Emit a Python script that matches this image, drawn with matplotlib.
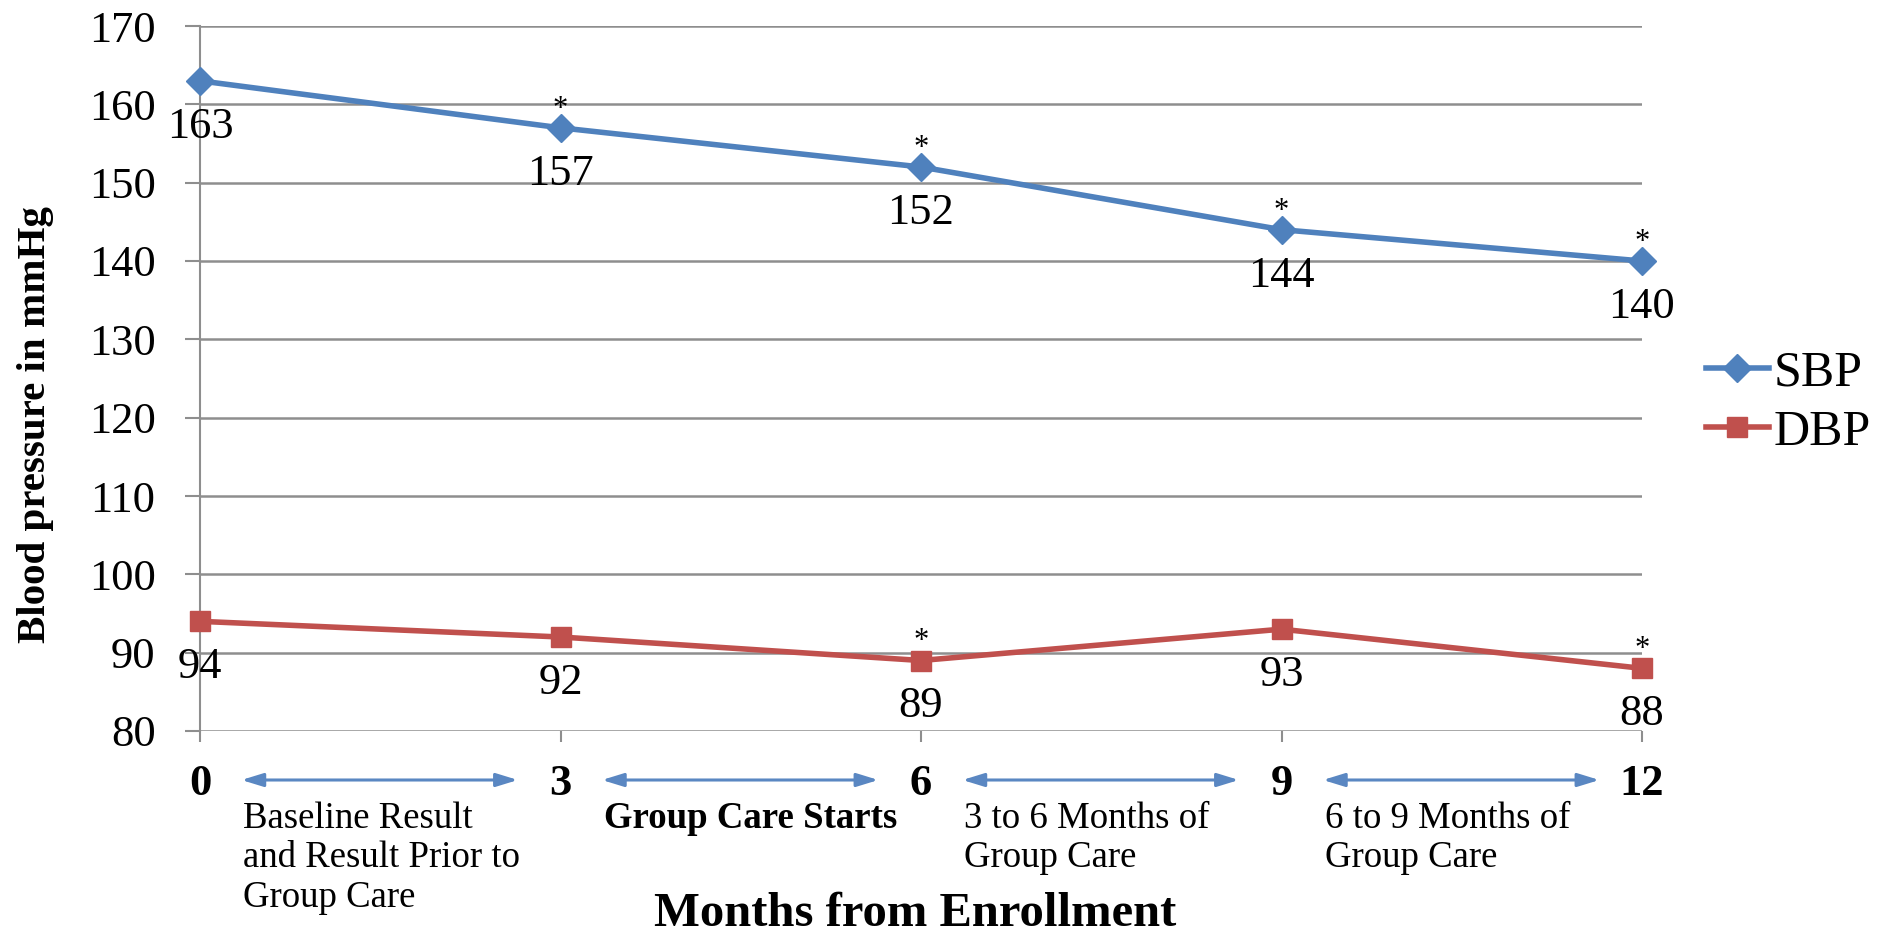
import matplotlib
matplotlib.use("Agg")
import matplotlib.pyplot as plt
import matplotlib.transforms as mtransforms

months = [0, 3, 6, 9, 12]
sbp = [163, 157, 152, 144, 140]
dbp = [94, 92, 89, 93, 88]
sbp_sig = [False, True, True, True, True]
dbp_sig = [False, False, True, False, True]
yticks = [80, 90, 100, 110, 120, 130, 140, 150, 160, 170]
period_labels = ["Baseline Result\nand Result Prior to\nGroup Care",
                 "Group Care Starts",
                 "3 to 6 Months of\nGroup Care",
                 "6 to 9 Months of\nGroup Care"]
period_bold = [False, True, False, False]

plt.rcParams['font.family'] = ['Liberation Serif', 'DejaVu Serif']

W, H = 1878, 933
fig = plt.figure(figsize=(W / 100, H / 100), dpi=100)
L, R, T, B = 200, 1642, 26, 731
ax = fig.add_axes([L / W, 1 - B / H, (R - L) / W, (B - T) / H])

blue = '#4F81BD'
red = '#C0504D'
grid = '#8E8E8E'

ax.set_xlim(0, 12)
ax.set_ylim(80, 170)
ax.set_yticks(yticks)
ax.yaxis.grid(True, color=grid, lw=1.8)
ax.set_axisbelow(True)
for s in ['top', 'right', 'bottom']:
    ax.spines[s].set_visible(False)
ax.spines['left'].set_color(grid)
ax.spines['left'].set_linewidth(1.5)
ax.tick_params(axis='y', length=11, color=grid, width=1.5, labelsize=32, pad=21)
ax.set_xticks(months)
ax.tick_params(axis='x', length=8, color=grid, width=1.5, labelbottom=False, direction='out')

ax.plot(months, sbp, color=blue, lw=4, marker='D', ms=14, label='SBP', zorder=3, clip_on=False)
ax.plot(months, dbp, color=red, lw=4, marker='s', ms=14, label='DBP', zorder=3, clip_on=False)

for series, sigs in ((sbp, sbp_sig), (dbp, dbp_sig)):
    for x, v, sig in zip(months, series, sigs):
        ax.annotate(str(v), (x, v), xytext=(0, -41), textcoords='offset points',
                    ha='center', va='baseline', fontsize=32)
        if sig:
            ax.annotate('*', (x, v), xytext=(0, 8), textcoords='offset points',
                        ha='center', va='baseline', fontsize=22)

trans = mtransforms.blended_transform_factory(ax.transData, fig.transFigure)
y_arrow = 1 - 780 / H
y_tick_base = 1 - 795 / H
for x in months:
    ax.text(x, y_tick_base, str(x), transform=trans, ha='center', va='baseline',
            fontsize=32, fontweight='bold')
for i, (lab, bold) in enumerate(zip(period_labels, period_bold)):
    x0 = months[i]
    ax.annotate('', xy=(x0 + 2.645, y_arrow), xytext=(x0 + 0.345, y_arrow),
                xycoords=trans, textcoords=trans,
                arrowprops=dict(arrowstyle='<|-|>,head_length=1.3,head_width=0.4',
                                color='#5A87C2', lw=2.2, shrinkA=0, shrinkB=0))
    ax.text(x0 + 0.36, 1 - 801 / H, lab, transform=trans, ha='left', va='top',
            fontsize=26.5, fontweight='bold' if bold else 'normal', linespacing=1.2)

fig.text(915 / W, 1 - 926 / H, 'Months from Enrollment', ha='center',
         va='baseline', fontsize=35, fontweight='bold')
fig.text(36 / W, 1 - 425 / H, 'Blood pressure in mmHg', ha='center', va='center',
         rotation=90, fontsize=29.5, fontweight='bold')

leg = fig.legend(loc='center left', bbox_to_anchor=(1706 / W, 1 - 403 / H), frameon=False,
                 fontsize=36, handlelength=1.25, handletextpad=0.1, labelspacing=0.25,
                 borderpad=0, borderaxespad=0)

fig.savefig('out.png', dpi=100, facecolor='white')
